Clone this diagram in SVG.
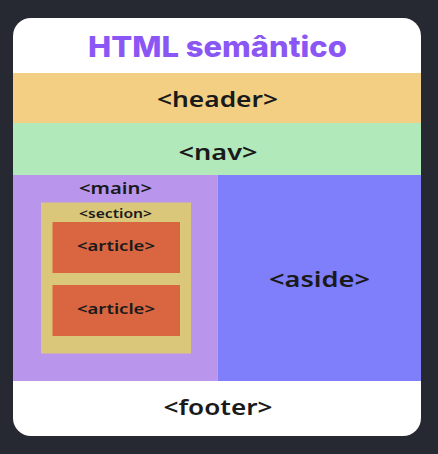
<svg xmlns="http://www.w3.org/2000/svg" width="438" height="454" viewBox="0 0 438 454">
<style>
.lbl{font-family:"Noto Sans","Open Sans",sans-serif;font-weight:600;fill:#1a1a1a;text-anchor:middle}
</style>
<defs><clipPath id="card"><rect x="13" y="18" width="408" height="418" rx="18"/></clipPath></defs>
<rect width="438" height="454" fill="#262832"/>
<g clip-path="url(#card)">
<rect x="13" y="18" width="408" height="418" fill="#ffffff"/>
<g id="title"><text x="217.5" y="57" font-family="Inter,'Open Sans',sans-serif" font-weight="800" font-size="28" fill="#8a57f4" text-anchor="middle" textLength="259" lengthAdjust="spacingAndGlyphs">HTML semântico</text></g>
<g id="header"><rect x="13" y="73" width="408" height="50" fill="#f3cf83"/><text class="lbl" x="217.5" y="107" font-size="22" textLength="121" lengthAdjust="spacingAndGlyphs">&lt;header&gt;</text></g>
<g id="nav"><rect x="13" y="123" width="408" height="52" fill="#b2e9bb"/><text class="lbl" x="218" y="159.5" font-size="22" textLength="79" lengthAdjust="spacingAndGlyphs">&lt;nav&gt;</text></g>
<g id="main"><rect x="13" y="175" width="204.5" height="206" fill="#b995ec"/><text class="lbl" x="115.5" y="194" font-size="16" textLength="73" lengthAdjust="spacingAndGlyphs">&lt;main&gt;</text></g>
<g id="aside"><rect x="217.5" y="175" width="203.5" height="206" fill="#7f7ffb"/><text class="lbl" x="319.5" y="287" font-size="22" textLength="101" lengthAdjust="spacingAndGlyphs">&lt;aside&gt;</text></g>
<g id="section"><rect x="41" y="202.5" width="150" height="151" fill="#dbc77a"/><text class="lbl" x="115.5" y="217.5" font-size="12.5" textLength="73" lengthAdjust="spacingAndGlyphs">&lt;section&gt;</text></g>
<g id="article1"><rect x="52.5" y="222" width="127.5" height="51" fill="#da6641"/><text class="lbl" x="116" y="251" font-size="15" textLength="78" lengthAdjust="spacingAndGlyphs">&lt;article&gt;</text></g>
<g id="article2"><rect x="52.5" y="285" width="127.5" height="51" fill="#da6641"/><text class="lbl" x="116" y="314" font-size="15" textLength="78" lengthAdjust="spacingAndGlyphs">&lt;article&gt;</text></g>
<g id="footer"><text class="lbl" x="218" y="415" font-size="22" textLength="109" lengthAdjust="spacingAndGlyphs">&lt;footer&gt;</text></g>
</g>
</svg>
